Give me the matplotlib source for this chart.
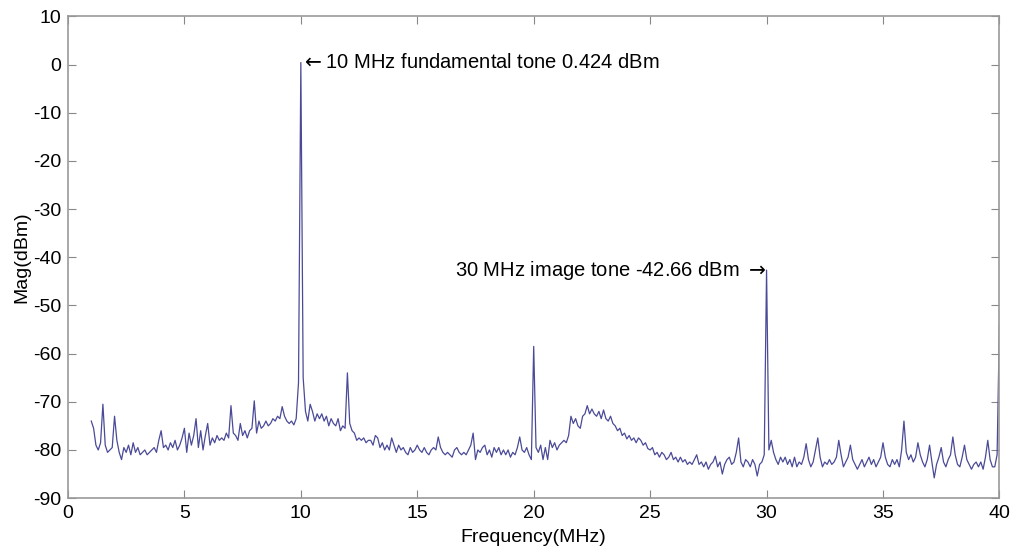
import numpy as np
import matplotlib
matplotlib.use("Agg")
import matplotlib.pyplot as plt

plt.rcParams["font.family"] = ["Liberation Sans", "DejaVu Sans"]
plt.rcParams["axes.unicode_minus"] = False

# spectrum trace, 0.1 MHz steps from 1.0 to 40.0 MHz
freq_start = 1.0
freq_step = 0.1
mag_dbm = [
    # 1.x
    -74, -75.5, -79, -80, -78.5, -70.5, -79, -80.5, -80, -79.5,
    # 2.x
    -73, -78, -80.5, -82, -79.5, -80.5, -79, -81, -78.5, -80.5,
    # 3.x
    -79.5, -81, -80.5, -80, -81, -80.5, -80, -79.5, -80.5, -78,
    # 4.x
    -76, -79.5, -79, -80, -78.5, -79.5, -78, -80, -79, -77.5,
    # 5.x
    -75.5, -80.5, -76.5, -79, -77, -73.5, -79.5, -76, -80, -77,
    # 6.x
    -74.5, -79, -77.5, -78.5, -77, -78, -77.5, -78, -76.5, -77.5,
    # 7.x
    -70.8, -76.5, -77, -78, -74.5, -77, -76, -77.5, -76, -75.5,
    # 8.x
    -69.8, -76.5, -74, -75.5, -75, -74, -75, -74.5, -73.5, -74,
    # 9.x
    -73, -73.5, -71, -73, -74, -74.5, -74, -74.8, -73.5, -66,
    # 10.x
    0.424, -65, -72, -74, -70.5, -72, -74, -72.5, -73.5, -72.5,
    # 11.x
    -74, -73, -75, -73.5, -74.5, -75, -73.5, -76, -75, -75.5,
    # 12.x
    -64, -74.5, -76, -76.5, -78, -77.5, -78, -77.5, -78.5, -78,
    # 13.x
    -78, -79, -77, -77.5, -79.5, -78.5, -80, -79, -80, -77.5,
    # 14.x
    -79, -80.5, -79, -80, -79.5, -80.5, -81, -79.5, -80.5, -80,
    # 15.x
    -79, -80, -80.5, -79.5, -80.5, -81, -80, -79.5, -80, -77.3,
    # 16.x
    -79.5, -80.5, -81, -80.5, -81, -81.5, -80, -79.5, -80.5, -81,
    # 17.x
    -80.5, -81, -80, -79, -76.5, -82, -80, -80.5, -79.5, -79,
    # 18.x
    -81, -80, -81.5, -79.5, -80.5, -79.5, -81, -80, -81, -80,
    # 19.x
    -81.5, -80.5, -81, -79.5, -77.3, -80, -80.5, -79.5, -81, -82,
    # 20.x
    -58.5, -79.5, -80.5, -79, -82, -79.5, -82, -78, -79.5, -78.5,
    # 21.x
    -80, -79, -78.5, -78, -78.5, -77, -73, -74.5, -73.5, -75,
    # 22.x
    -75.5, -73, -72.5, -70.8, -72.5, -71.5, -72.5, -73, -72, -73.5,
    # 23.x
    -71.7, -73.5, -74, -73, -74.5, -75, -76, -75.5, -77, -76.5,
    # 24.x
    -77.7, -77, -78, -77.5, -78.5, -77.5, -78, -79, -78.5, -79.7,
    # 25.x
    -80, -79.5, -81, -80.5, -81.5, -80.5, -81, -82, -81.5, -80.5,
    # 26.x
    -82, -81.5, -82.5, -81.5, -82.5, -82, -83, -82.5, -83, -82,
    # 27.x
    -81, -83, -82.5, -83.5, -82.5, -84, -83, -82.5, -81.3, -83.5,
    # 28.x
    -82.5, -85, -83, -82, -81.5, -83, -82.5, -80.5, -77.5, -82.5,
    # 29.x
    -83.5, -82, -82.5, -83.5, -82, -83, -85.4, -83, -82.5, -81,
    # 30.x
    -42.66, -80, -78, -80.5, -82, -83, -81.5, -82.5, -81.5, -83,
    # 31.x
    -82, -83.5, -81.5, -83.5, -82.5, -83, -81.5, -78.7, -82, -83.5,
    # 32.x
    -82.5, -80, -77.5, -81.5, -83.5, -82.5, -83, -82, -83, -82.5,
    # 33.x
    -81.5, -78, -81, -83.5, -82.5, -81.5, -79, -82, -83, -84,
    # 34.x
    -83, -82, -83.5, -82.5, -81.5, -83, -82, -83.5, -82.5, -81.5,
    # 35.x
    -78.5, -81.5, -83, -83.5, -82, -83, -82, -83.5, -80, -74,
    # 36.x
    -80.5, -82, -81, -82.5, -81.5, -78.5, -81, -82.5, -83.5, -82,
    # 37.x
    -79, -82.5, -85.8, -83, -81.5, -79.5, -82.5, -83.5, -82, -81,
    # 38.x
    -77.3, -81, -83, -83.5, -81.5, -79, -82, -83, -84, -83,
    # 39.x
    -82.5, -83.5, -82.5, -84, -81.5, -78, -82, -83.5, -83.5, -81,
    # 40.0
    -54,
]
freq_mhz = freq_start + freq_step * np.arange(len(mag_dbm))

x_ticks = [0, 5, 10, 15, 20, 25, 30, 35, 40]
y_ticks = [-90, -80, -70, -60, -50, -40, -30, -20, -10, 0, 10]

fund_freq, fund_mag = 10, 0.424
image_freq, image_mag = 30, -42.66

fig = plt.figure(figsize=(10.13, 5.48), dpi=100)
ax = fig.add_axes([0.0671, 0.091, 0.9195, 0.879])

ax.plot(freq_mhz, mag_dbm, color="#4a4a98", lw=0.9)

ax.set_xlim(0, 40)
ax.set_ylim(-90, 10)
ax.set_xticks(x_ticks)
ax.set_yticks(y_ticks)
ax.tick_params(direction="in", length=6, width=0.8, color="#888888",
               labelsize=14, top=True, right=True, pad=5)
for sp in ax.spines.values():
    sp.set_color("#999999")
    sp.set_linewidth(1.2)

ax.set_xlabel("Frequency(MHz)", fontsize=14, labelpad=5)
ax.set_ylabel("Mag(dBm)", fontsize=14, labelpad=2)

# MATLAB style text arrows pointing at the two tones
ax.text(fund_freq, fund_mag, r"$\leftarrow$10 MHz fundamental tone 0.424 dBm",
        ha="left", va="center", fontsize=14.5)
ax.text(image_freq, image_mag, r"30 MHz image tone -42.66 dBm $\rightarrow$",
        ha="right", va="center", fontsize=14.5)

fig.savefig("out.png", dpi=100)
